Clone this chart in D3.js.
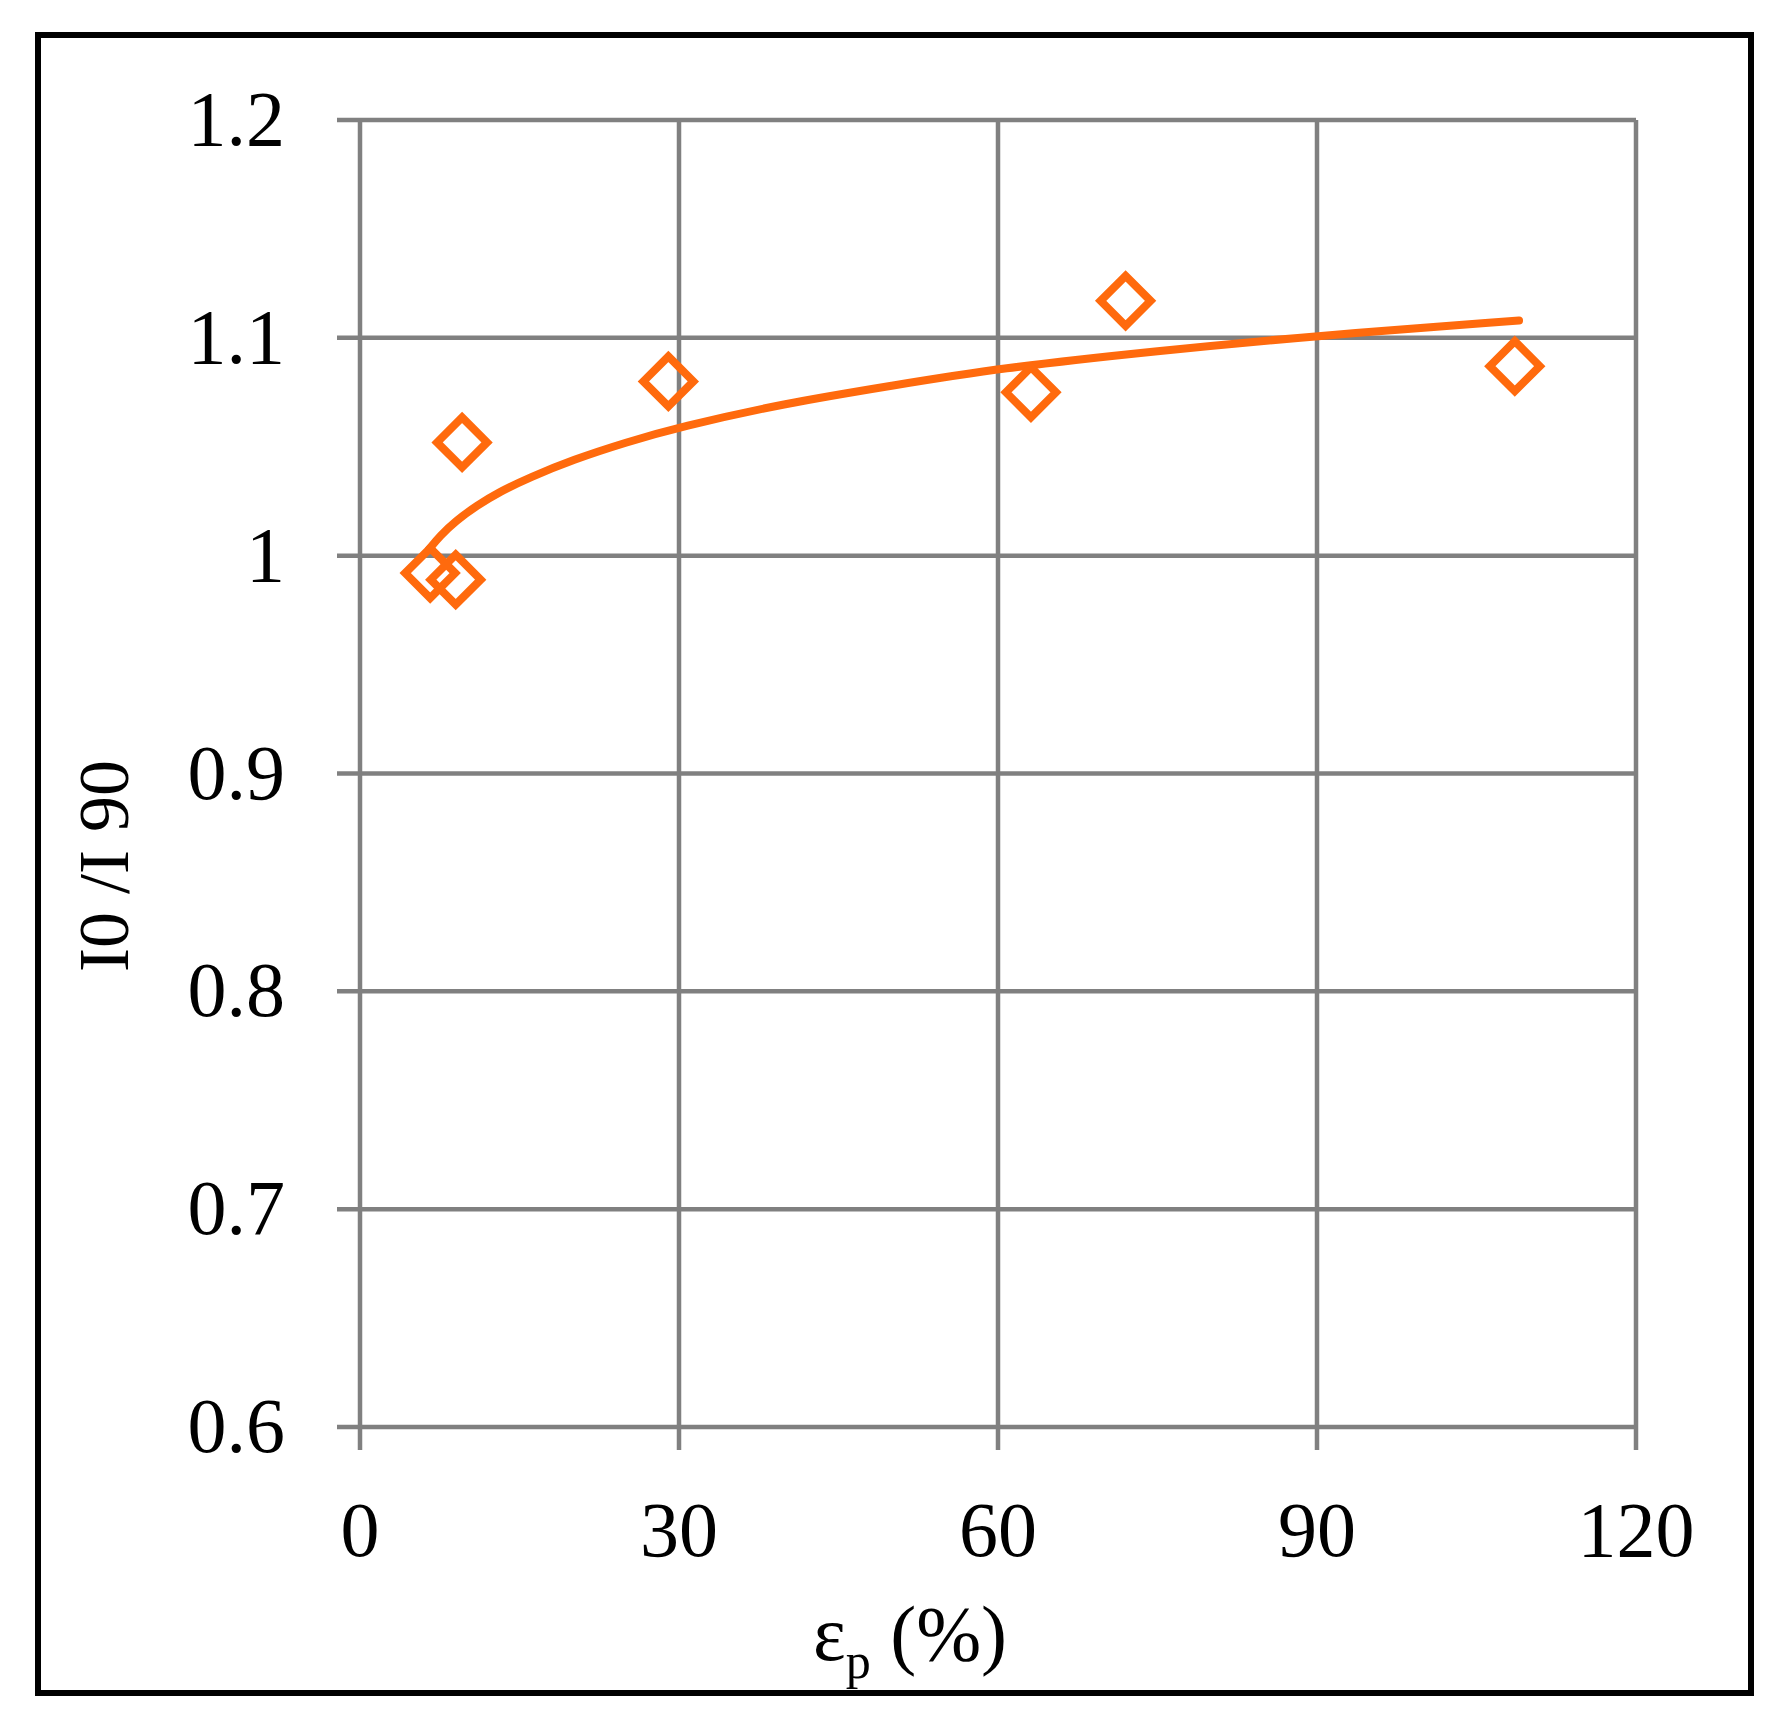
<!DOCTYPE html>
<html><head><meta charset="utf-8">
<script src="https://cdn.jsdelivr.net/npm/d3@7"></script>
<style>body{margin:0;background:#fff}</style></head>
<body><svg id="c" width="1786" height="1724"></svg>
<script>
const xTicks=[0,30,60,90,120];
const yTicks=[0.6,0.7,0.8,0.9,1.0,1.1,1.2];
const yTickLabels=["0.6","0.7","0.8","0.9","1","1.1","1.2"];
const ptX=[6.6,9.0,9.6,29,63.1,72,108.6];
const ptY=[0.992,0.989,1.052,1.080,1.075,1.117,1.087];
const trendX=[6.5,7.5,9,11,13,16,20,25,30,40,50,60,75,90,109];
const trendY=[1.003,1.009,1.016,1.023,1.029,1.036,1.044,1.052,1.059,1.07,1.078,1.086,1.094,1.101,1.108];
const col="#FF6A0D", grid="#808080";
const svg=d3.select("#c");
svg.append("rect").attr("x",38).attr("y",35).attr("width",1713).attr("height",1658).attr("fill","#fff").attr("stroke","#000").attr("stroke-width",6);
const x=d3.scaleLinear().domain([0,120]).range([360,1636]);
const y=d3.scaleLinear().domain([0.6,1.2]).range([1427,120]);
const g=svg.append("g");
yTicks.forEach(v=>g.append("line").attr("x1",337).attr("x2",x(120)).attr("y1",y(v)).attr("y2",y(v)).attr("stroke",grid).attr("stroke-width",4.5));
xTicks.forEach(v=>g.append("line").attr("x1",x(v)).attr("x2",x(v)).attr("y1",y(1.2)).attr("y2",1450).attr("stroke",grid).attr("stroke-width",4.5));
const tf="'Liberation Serif','Times New Roman',Times,serif";
yTicks.forEach((v,i)=>svg.append("text").attr("x",285).attr("y",y(v)+25).attr("text-anchor","end").attr("font-family",tf).attr("font-size",78).text(yTickLabels[i]));
xTicks.forEach(v=>svg.append("text").attr("x",x(v)).attr("y",1556).attr("text-anchor","middle").attr("font-family",tf).attr("font-size",78).text(v));
svg.append("text").attr("transform","translate(128,866) rotate(-90)").attr("text-anchor","middle").attr("font-family",tf).attr("font-size",72).text("I0 /I 90");
const xt=svg.append("text").attr("x",910).attr("y",1660).attr("text-anchor","middle").attr("font-family",tf).attr("font-size",78);
xt.append("tspan").text("ε");
xt.append("tspan").attr("font-size",50).attr("dy",18).text("p");
xt.append("tspan").attr("dy",-18).text(" (%)");
const line=d3.line().x(d=>x(d[0])).y(d=>y(d[1])).curve(d3.curveBasis);
svg.append("path").datum(trendX.map((v,i)=>[v,trendY[i]])).attr("d",line).attr("fill","none").attr("stroke",col).attr("stroke-width",8).attr("stroke-linecap","round");
const s=25;
ptX.forEach((v,i)=>{const cx=x(v),cy=y(ptY[i]);
svg.append("path").attr("d",`M${cx},${cy-s}L${cx+s},${cy}L${cx},${cy+s}L${cx-s},${cy}Z`).attr("fill","none").attr("stroke",col).attr("stroke-width",8);});
</script></body></html>
